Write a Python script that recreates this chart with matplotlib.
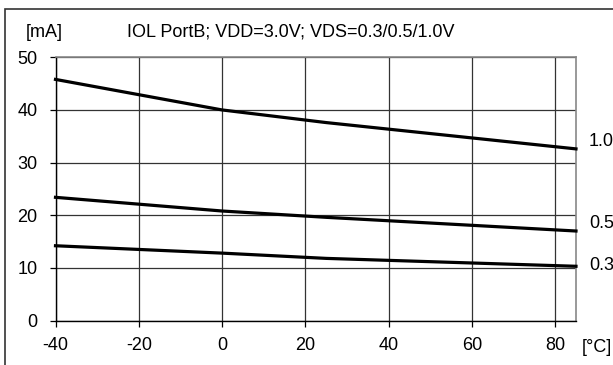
import matplotlib
matplotlib.use("Agg")
import matplotlib.pyplot as plt
from matplotlib.patches import Rectangle

plt.rcParams['font.family'] = ['Liberation Sans', 'DejaVu Sans']

temps = [-40, 0, 25, 85]
iol_10 = [45.8, 40.0, 37.6, 32.6]
iol_05 = [23.4, 20.8, 19.6, 17.0]
iol_03 = [14.2, 12.8, 11.8, 10.3]
series_labels = ["1.0", "0.5", "0.3"]
xticks = [-40, -20, 0, 20, 40, 60, 80]
yticks = [0, 10, 20, 30, 40, 50]
title = "IOL PortB; VDD=3.0V; VDS=0.3/0.5/1.0V"

W, H = 613, 365
FS = 13
fig = plt.figure(figsize=(W / 100, H / 100), dpi=100)

def fx(px):
    return px / W

def fy(py):
    return 1 - py / H

# outer frame
fig.patches.append(Rectangle((fx(4.5), fy(400)), fx(700), fy(9) - fy(400),
                             transform=fig.transFigure, fill=False,
                             edgecolor='#333333', linewidth=1.2))

L, R, T, B = 55.5, 576, 57.3, 320.5
ax = fig.add_axes([fx(L), fy(B), fx(R - L), fy(T) - fy(B)])
ax.set_xlim(-40, 85)
ax.set_ylim(0, 50)
ax.set_xticks(xticks)
ax.set_yticks(yticks)
ax.set_xticklabels([str(t) for t in xticks])
ax.set_yticklabels([str(t) for t in yticks])
ax.tick_params(axis='both', direction='out', length=4.5, width=0.9, colors='black',
               labelsize=FS)
ax.tick_params(axis='x', pad=7.5)
ax.tick_params(axis='y', pad=8.5)
ax.grid(True, color='#333333', linewidth=0.9)
ax.set_axisbelow(True)
for s in ['left', 'bottom']:
    ax.spines[s].set_color('black')
    ax.spines[s].set_linewidth(1.0)
for s in ['top', 'right']:
    ax.spines[s].set_color('#888888')
    ax.spines[s].set_linewidth(1.2)

for ys in (iol_10, iol_05, iol_03):
    ax.plot(temps, ys, color='black', linewidth=2.3, clip_on=False, zorder=3)

# series labels at the right end
label_y = [141, 223, 265]
for lab, py in zip(series_labels, label_y):
    fig.text(fx(589), fy(py), lab, fontsize=FS, ha='left', va='center')

fig.text(fx(44.5), fy(36.7), "[mA]", fontsize=FS, ha='center', va='baseline')
fig.text(fx(126.7), fy(36.7), title, fontsize=FS, ha='left', va='baseline')
fig.text(fx(582), fy(347.5), "[°C]", fontsize=FS, ha='left', va='center')

fig.savefig("out.png", dpi=100)
